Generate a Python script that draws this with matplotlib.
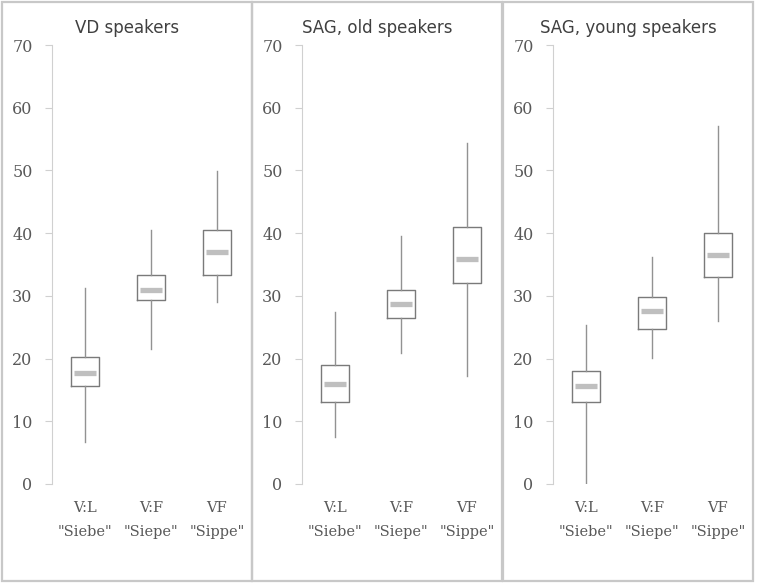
import numpy as np
import matplotlib.pyplot as plt
from matplotlib.patches import Rectangle

titles = ["VD speakers", "SAG, old speakers", "SAG, young speakers"]
categories = ['V:L\n"Siebe"', 'V:F\n"Siepe"', 'VF\n"Sippe"']

# per panel: rows = categories, values for each box
whis_lo = [[6.7, 21.5, 29.0], [7.5, 20.9, 17.3], [0.0, 20.1, 26.0]]
q1 = [[15.7, 29.3, 33.4], [13.0, 26.5, 32.0], [13.0, 24.7, 33.0]]
med = [[17.7, 31.0, 37.0], [15.9, 28.7, 35.9], [15.7, 27.6, 36.5]]
q3 = [[20.2, 33.4, 40.5], [19.0, 31.0, 40.9], [18.0, 29.8, 40.1]]
whis_hi = [[31.3, 40.5, 49.9], [27.4, 39.6, 54.4], [25.4, 36.2, 57.1]]

W, H = 757, 583
fig = plt.figure(figsize=(W / 100, H / 100), dpi=100)

panel_left = [2, 252, 503]
panel_w = 250
for p in range(3):
    x0 = panel_left[p]
    fig.patches.append(Rectangle((x0 / W, 2 / H), panel_w / W, (H - 4) / H,
                                 transform=fig.transFigure, fill=False,
                                 edgecolor="#c8c8c8", lw=1.6, zorder=0))
    fig.text((x0 + panel_w / 2) / W, 1 - 28 / H, titles[p], ha="center", va="center",
             fontsize=12, color="#404040", family="DejaVu Sans")

    ax = fig.add_axes([(x0 + 50) / W, (H - 484) / H, 198 / W, (484 - 45) / H])
    stats = []
    for i in range(3):
        stats.append(dict(med=med[p][i], q1=q1[p][i], q3=q3[p][i],
                          whislo=whis_lo[p][i], whishi=whis_hi[p][i], fliers=[]))
    pos = np.arange(1, 4)
    ax.bxp(stats, positions=pos, widths=0.41, showcaps=False, showfliers=False,
           boxprops=dict(color="#7a7a7a", lw=1.0),
           whiskerprops=dict(color="#929292", lw=1.0),
           medianprops=dict(visible=False))
    ax.hlines(med[p], pos - 0.17, pos + 0.17, color="#bfbfbf", lw=3.8, zorder=3)

    ax.set_xlim(0.5, 3.5)
    ax.set_ylim(0, 70)
    ax.set_yticks(np.arange(0, 71, 10))
    ax.set_xticks(pos)
    ax.set_xticklabels(categories, family="DejaVu Serif", fontsize=10.5,
                       color="#595959", linespacing=1.95)
    for lab in ax.get_yticklabels():
        lab.set_family("DejaVu Serif")
        lab.set_fontsize(11.5)
        lab.set_color("#595959")
    ax.tick_params(axis="x", length=0, pad=12)
    ax.tick_params(axis="y", length=5, color="#d0d0d0", pad=9)
    for s in ["top", "right", "bottom"]:
        ax.spines[s].set_visible(False)
    ax.spines["left"].set_color("#d0d0d0")
    ax.patch.set_alpha(0)

fig.savefig("out.png", dpi=100)
